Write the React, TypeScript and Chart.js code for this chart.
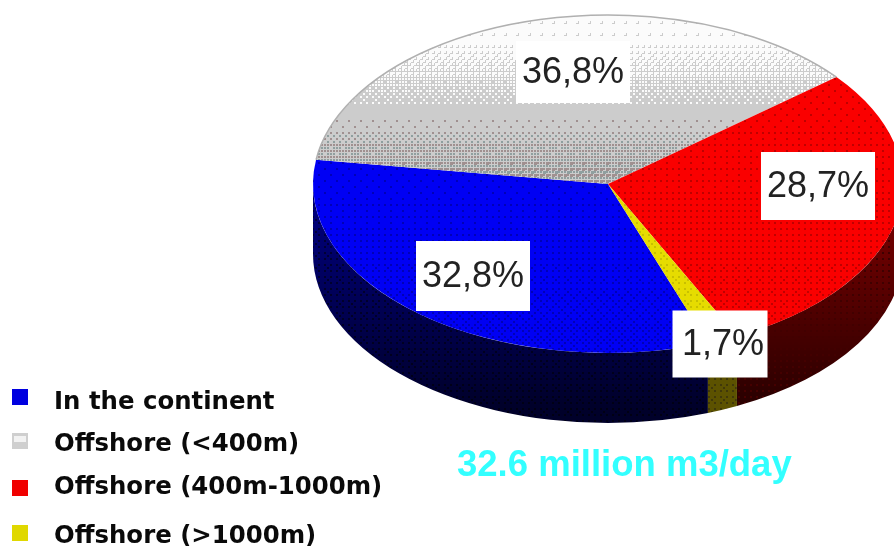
import React, { useEffect, useRef } from "react";
import { Chart, ArcElement, PieController } from "chart.js";

Chart.register(ArcElement, PieController);

// Production share by location
const categories = ["In the continent", "Offshore (<400m)", "Offshore (400m-1000m)", "Offshore (>1000m)"];
const shares = [32.8, 36.8, 28.7, 1.7];
const totalLabel = "32.6 million m3/day";

const WIDTH = 894;
const HEIGHT = 546;

// Tilted-disc geometry
const DISC = { cx: 608, cy: 184, rx: 295, ry: 169, depth: 70, rotation: 160.2 };

// Centres of the white value boxes, their sizes, and any nudge for the text inside
const valueBoxes = [
  { cx: 473, cy: 276, w: 114, h: 70, textDx: 0 },
  { cx: 573, cy: 72, w: 114, h: 62, textDx: 0 },
  { cx: 818, cy: 186, w: 114, h: 68, textDx: 0 },
  { cx: 720, cy: 344, w: 95, h: 67, textDx: 3 },
];

const legendMarkers = ["#0000e0", "#cfcfcf", "#f00000", "#e0d800"];
const legendRows = [
  { markerTop: 389, baseline: 409 },
  { markerTop: 433, baseline: 451 },
  { markerTop: 480, baseline: 494 },
  { markerTop: 525, baseline: 543 },
];

type Shade = (y: number) => { base: string; dot: string; coverage: number };

const BAYER = [
  [0, 8, 2, 10],
  [12, 4, 14, 6],
  [3, 11, 1, 9],
  [15, 7, 13, 5],
];

// Stippled fill: small dots up to about 44% coverage, solid cells beyond that.
function stipple(ctx: CanvasRenderingContext2D, shade: Shade): CanvasPattern {
  const c = document.createElement("canvas");
  c.width = WIDTH;
  c.height = HEIGHT;
  const g = c.getContext("2d") as CanvasRenderingContext2D;
  const pitch = 3;
  for (let row = 0; row * pitch < HEIGHT; row++) {
    const y = row * pitch;
    const { base, dot, coverage } = shade(y);
    g.fillStyle = base;
    g.fillRect(0, y, WIDTH, pitch);
    g.fillStyle = dot;
    const dotted = Math.min(1, coverage / 0.44);
    const solid = Math.max(0, (coverage - 0.44) / 0.56);
    for (let col = 0; col * pitch < WIDTH; col++) {
      const threshold = (BAYER[row % 4][col % 4] + 0.5) / 16;
      if (threshold < solid) g.fillRect(col * pitch, y, pitch, pitch);
      else if (threshold < dotted) g.fillRect(col * pitch, y, 2, 2);
    }
  }
  return ctx.createPattern(c, "no-repeat") as CanvasPattern;
}

const lerp = (a: number, b: number, t: number) => a + (b - a) * Math.min(1, Math.max(0, t));
const tone = (r: number, g: number, b: number) => `rgb(${Math.round(r)},${Math.round(g)},${Math.round(b)})`;

const topShades: Shade[] = [
  (y) => ({ base: "#0000f4", dot: "#0000b8", coverage: lerp(0.05, 0.2, (y - 170) / 180) }),
  (y) =>
    y < 108
      ? { base: "#cccccc", dot: "#fbfbfb", coverage: lerp(0.97, 0.06, (y - 40) / 66) }
      : { base: "#cccccc", dot: y % 2 ? "#8f9f9f" : "#a09090", coverage: lerp(0, 0.6, (y - 118) / 50) },
  (y) => ({ base: "#fa0000", dot: "#c00000", coverage: lerp(0.05, 0.15, (y - 80) / 240) }),
  () => ({ base: "#e6dc00", dot: "#c8c000", coverage: 0.15 }),
];

const sideShades: Shade[] = [
  (y) => {
    const t = (y - 165) / 240;
    return { base: tone(0, 0, lerp(140, 42, t)), dot: tone(0, 0, lerp(70, 20, t)), coverage: 0.13 };
  },
  () => ({ base: "#888888", dot: "#888888", coverage: 0 }),
  (y) => {
    const t = (y - 235) / 160;
    return { base: tone(lerp(110, 44, t), 0, 0), dot: tone(lerp(60, 70, t), 0, 0), coverage: 0.11 };
  },
  () => ({ base: "#5c5200", dot: "#40380a", coverage: 0.13 }),
];

const PI = Math.PI;

const tiltedDisc = {
  id: "tiltedDisc",
  beforeDatasetsDraw(chart: any) {
    const ctx: CanvasRenderingContext2D = chart.ctx;
    const arcs = chart.getDatasetMeta(0).data;
    const first = arcs[0].getProps(["x", "y", "outerRadius"], true);
    const { cx, cy, rx, ry, depth } = DISC;

    // Rim: the lower half of each slice's edge, swept down by the disc depth
    arcs.forEach((arc: any, i: number) => {
      const { startAngle, endAngle } = arc.getProps(["startAngle", "endAngle"], true);
      [-2 * PI, 0, 2 * PI].forEach((shift) => {
        const a = Math.max(startAngle + shift, 0);
        const b = Math.min(endAngle + shift, PI);
        if (b <= a) return;
        ctx.beginPath();
        ctx.ellipse(cx, cy, rx, ry, 0, a, b);
        ctx.ellipse(cx, cy + depth, rx, ry, 0, b, a, true);
        ctx.closePath();
        ctx.fillStyle = chart.$sidePatterns[i];
        ctx.fill();
      });
    });

    // The slices themselves are flattened onto the disc's ellipse
    const sx = rx / first.outerRadius;
    const sy = ry / first.outerRadius;
    const m = new DOMMatrix().translate(cx, cy).scale(sx, sy).translate(-first.x, -first.y);
    chart.$topPatterns.forEach((p: CanvasPattern) => p.setTransform(m.inverse()));
    ctx.save();
    ctx.setTransform(m);
  },
  afterDatasetsDraw(chart: any) {
    const ctx: CanvasRenderingContext2D = chart.ctx;
    ctx.restore();
    const arcs = chart.getDatasetMeta(0).data;
    const { cx, cy, rx, ry } = DISC;

    // Thin outline along the back of the grey slice
    const grey = arcs[1].getProps(["startAngle", "endAngle"], true);
    ctx.beginPath();
    ctx.ellipse(cx, cy, rx, ry, 0, grey.startAngle, grey.endAngle);
    ctx.strokeStyle = "#b0b0b0";
    ctx.lineWidth = 1.5;
    ctx.stroke();

    // Value boxes
    ctx.textAlign = "center";
    ctx.textBaseline = "middle";
    ctx.font = '36px "Liberation Sans", Arial, sans-serif';
    shares.forEach((v, i) => {
      const box = valueBoxes[i];
      ctx.fillStyle = "#ffffff";
      ctx.fillRect(box.cx - box.w / 2, box.cy - box.h / 2, box.w, box.h);
      ctx.fillStyle = "#222222";
      ctx.fillText(`${v.toFixed(1).replace(".", ",")}%`, box.cx + box.textDx, box.cy + 1);
    });

    // Total
    ctx.font = 'bold 36.5px "Liberation Sans", Arial, sans-serif';
    ctx.textAlign = "left";
    ctx.textBaseline = "alphabetic";
    ctx.fillStyle = "#33ffff";
    ctx.fillText(totalLabel, 457, 476);

    // Legend
    ctx.font = 'bold 24.4px "DejaVu Sans", sans-serif';
    categories.forEach((name, i) => {
      const row = legendRows[i];
      ctx.fillStyle = legendMarkers[i];
      ctx.fillRect(12, row.markerTop, 16, 16);
      if (i === 1) {
        ctx.fillStyle = "#f2f2f2";
        ctx.fillRect(14, row.markerTop + 3, 12, 6);
      }
      ctx.fillStyle = "#0a0a0a";
      ctx.fillText(name, 54, row.baseline);
    });
  },
};

export default function App() {
  const ref = useRef<HTMLCanvasElement>(null);

  useEffect(() => {
    const canvas = ref.current as HTMLCanvasElement;
    const ctx = canvas.getContext("2d") as CanvasRenderingContext2D;
    const topPatterns = topShades.map((s) => stipple(ctx, s));
    const sidePatterns = sideShades.map((s) => stipple(ctx, s));

    const chart: any = new Chart(canvas, {
      type: "pie",
      data: {
        labels: categories,
        datasets: [{ data: shares, backgroundColor: topPatterns, borderWidth: 0, clip: false } as any],
      },
      options: {
        responsive: false,
        animation: false,
        rotation: DISC.rotation,
        events: [],
        plugins: { legend: { display: false }, tooltip: { enabled: false } },
      },
      plugins: [
        {
          id: "patterns",
          beforeInit(c: any) {
            c.$topPatterns = topPatterns;
            c.$sidePatterns = sidePatterns;
          },
        },
        tiltedDisc,
      ],
    } as any);
    return () => chart.destroy();
  }, []);

  return (
    <canvas
      ref={ref}
      width={WIDTH}
      height={HEIGHT}
      style={{ position: "fixed", left: 0, top: 0, display: "block", width: WIDTH, height: HEIGHT }}
    />
  );
}
